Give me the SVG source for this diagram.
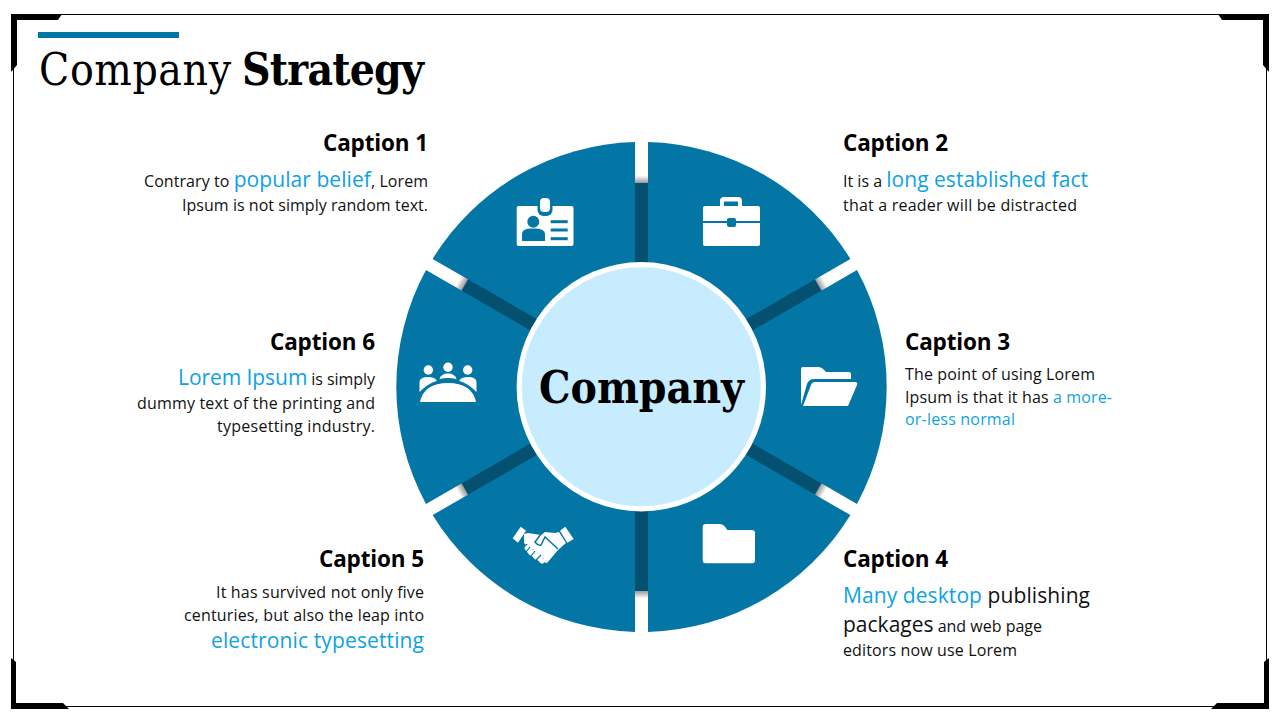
<svg xmlns="http://www.w3.org/2000/svg" width="1280" height="720" viewBox="0 0 1280 720">
<defs>
<linearGradient id="gs" x1="0" y1="0" x2="0" y2="1"><stop offset="0" stop-color="#fff"/><stop offset="0.84" stop-color="#fff"/><stop offset="1" stop-color="#999"/></linearGradient>
</defs>
<style>
.seg{fill:#0476a5}
.dark{fill:#035070}
.ic{fill:#fff}
.icb{fill:#0476a5}
.cap{font-family:"Open Sans","Noto Sans",sans-serif;font-weight:700;font-size:22.500px;fill:#000}
.b{font-family:"Open Sans","Noto Sans",sans-serif;font-size:16px;fill:#111}
.big{font-size:21px}
.hl{fill:#0ea2e2}
.e{text-anchor:end}
.ttl{font-family:"DejaVu Serif Condensed","DejaVu Serif",serif;font-size:44px;fill:#000}
</style>
<rect width="1280" height="720" fill="#fff"/>
<g id="frame">
<rect x="13.5" y="14.500" width="1253" height="692" fill="none" stroke="#000" stroke-width="1"/>
<path d="M11 14H62L58 20H17V65L11 72Z" fill="#000"/>
<path d="M1269 14H1218L1222 20H1263V65L1269 72Z" fill="#000"/>
<path d="M11 709H69L63 703H16V662L11 658Z" fill="#000"/>
<path d="M1269 709H1211L1217 703H1264V662L1269 658Z" fill="#000"/>
</g>
<g id="title">
<rect x="38" y="32" width="141" height="6" fill="#0476a5"/>
<text class="ttl" x="39" y="85" textLength="192">Company</text>
<text class="ttl" x="242" y="85" font-weight="700" textLength="182">Strategy</text>
</g>
<g id="connectors">
<rect class="dark" x="634" y="150" width="15" height="130" transform="rotate(0 641.5 387)"/>
<rect class="dark" x="634" y="150" width="15" height="130" transform="rotate(60 641.5 387)"/>
<rect class="dark" x="634" y="150" width="15" height="130" transform="rotate(120 641.5 387)"/>
<rect class="dark" x="634" y="150" width="15" height="130" transform="rotate(180 641.5 387)"/>
<rect class="dark" x="634" y="150" width="15" height="130" transform="rotate(240 641.5 387)"/>
<rect class="dark" x="634" y="150" width="15" height="130" transform="rotate(300 641.5 387)"/>
<rect fill="url(#gs)" x="634" y="136" width="15" height="47" transform="rotate(0 641.5 387)"/>
<rect fill="url(#gs)" x="634" y="136" width="15" height="47" transform="rotate(60 641.5 387)"/>
<rect fill="url(#gs)" x="634" y="136" width="15" height="47" transform="rotate(120 641.5 387)"/>
<rect fill="url(#gs)" x="634" y="136" width="15" height="47" transform="rotate(180 641.5 387)"/>
<rect fill="url(#gs)" x="634" y="136" width="15" height="47" transform="rotate(240 641.5 387)"/>
<rect fill="url(#gs)" x="634" y="136" width="15" height="47" transform="rotate(300 641.5 387)"/>
</g>
<g id="seg1">
<path class="seg" d="M635 142A245 245 0 0 0 432.600 258.900L560 332.500L635 300Z"/>
<rect class="ic" x="516.700" y="206" width="56.800" height="40" rx="2"/>
<rect class="icb" x="537.500" y="198" width="15" height="18" rx="6"/>
<rect class="ic" x="540" y="198" width="10" height="14" rx="4"/>
<circle class="icb" cx="533.300" cy="221.700" r="6"/>
<path class="icb" d="M522 241V234Q522 229 530 228.500H536Q545 229 545 234V241Z"/>
<rect class="icb" x="550.700" y="220.200" width="17" height="3"/><rect class="icb" x="550.700" y="228.500" width="17" height="3"/><rect class="icb" x="550.700" y="237.200" width="17" height="3"/>
</g>
<g id="seg2">
<path class="seg" d="M648 142A245 245 0 0 1 850.400 258.900L723 332.500L648 300Z"/>
<rect class="ic" x="703" y="206" width="57" height="40" rx="2"/>
<path class="ic" d="M720 208V201Q720 197 724 197H738Q742 197 742 201V208ZM724 206H738V201.500H724Z" fill-rule="evenodd"/>
<rect class="icb" x="703" y="221" width="57" height="2"/>
<rect class="icb" x="727" y="218" width="9" height="9" rx="2"/>
</g>
<g id="seg3">
<path class="seg" d="M857 270.100A245 245 0 0 1 857 503.900L730 430.600L720 387L730 343.400Z"/>
<path class="ic" d="M801 369Q801 367 803 367H818Q822 367 826 372H849Q851 372 851 375V379H814Q809 379 807 384L801 405Z"/>
<path class="ic" d="M815 382H855Q858 382 857 385L848 406H803L811 385Q812 382 815 382Z"/>
</g>
<g id="seg4">
<path class="seg" d="M648 632A245 245 0 0 0 850.400 515.100L723 441.500L648 474Z"/>
<path class="ic" d="M702.700 527Q702.700 524 705.700 524H720Q724 524 727.300 530H752Q755 530 755 533V560.300Q755 563.300 752 563.300H705.700Q702.700 563.300 702.700 560.300Z"/>
</g>
<g id="seg5">
<path class="seg" d="M635 632A245 245 0 0 1 432.600 515.100L560 441.500L635 474Z"/>
<path class="ic" d="M512.700 538.300L520.700 526.700L526 530.700L518 542.700Z"/>
<path class="ic" d="M560 530.700L565.300 526.700L573.700 539L567.300 542.700Z"/>
<path class="ic" d="M524 534L528 533L541 535L545 532L555 533L559 532L566 543L558 550L547 563L543 562L524 543Z"/>
<path d="M558 549L545 537L541 545Q538 546 535 542L541 534" fill="none" stroke="#0476a5" stroke-width="1.500"/>
<path d="M527 544L523 551M533 549L529 556M538 554L534 561M543 558L540 563" stroke="#0476a5" stroke-width="1.500" fill="none"/>
<path d="M527 548L531 553M532 552L536 557M537 556L542 561" stroke="#fff" stroke-width="5" stroke-linecap="round" fill="none"/>
<path d="M530 547L526 552M535 551L531 556M541 555L536 560" stroke="#0476a5" stroke-width="1.200" fill="none"/>
</g>
<g id="seg6">
<path class="seg" d="M426 270.100A245 245 0 0 0 426 503.900L553 430.600L563 387L553 343.400Z"/>
<circle class="ic" cx="428.300" cy="370" r="4.700"/><circle class="ic" cx="448" cy="367.300" r="4.700"/><circle class="ic" cx="467.700" cy="370" r="4.700"/>
<path class="ic" d="M419.500 392V382Q420 377 428 377Q434 377 436.500 380V381Q427 384 419.500 392ZM439.500 379Q441 373.500 448 373.500Q455 373.500 456.500 379Q448 377 439.500 379ZM476.500 392V382Q476 377 468 377Q462 377 459.500 380V381Q469 384 476.500 392ZM420 402Q424 383 448 383Q472 383 476 402Z"/>
</g>
<g id="center">
<circle cx="641.300" cy="386.800" r="124.700" fill="#fff"/>
<circle cx="641.300" cy="386.800" r="119.500" fill="#c7ecfe"/>
<text x="641.500" y="403" text-anchor="middle" font-family="'DejaVu Serif Condensed','DejaVu Serif',serif" font-weight="700" font-size="44px" fill="#000" textLength="205">Company</text>
</g>
<g id="caption1"><text class="cap e" x="428" y="151" textLength="105">Caption 1</text>
<text class="b e" x="428" y="187" textLength="284">Contrary to <tspan class="big hl">popular belief</tspan>, Lorem</text>
<text class="b e" x="428" y="211" textLength="246">Ipsum is not simply random text.</text></g>
<g id="caption2"><text class="cap" x="843" y="151" textLength="105">Caption 2</text>
<text class="b" x="843" y="187" textLength="245">It is a <tspan class="big hl">long established fact</tspan></text>
<text class="b" x="843" y="211" textLength="234">that a reader will be distracted</text></g>
<g id="caption3"><text class="cap" x="905" y="350" textLength="105">Caption 3</text>
<text class="b" x="905" y="380" textLength="190">The point of using Lorem</text>
<text class="b" x="905" y="403" textLength="207">Ipsum is that it has <tspan class="hl">a more-</tspan></text>
<text class="b hl" x="905" y="425" textLength="110">or-less normal</text></g>
<g id="caption4"><text class="cap" x="843" y="567" textLength="105">Caption 4</text>
<text class="b big" x="843" y="603" textLength="247"><tspan class="hl">Many desktop</tspan> publishing</text>
<text class="b" x="843" y="632" textLength="199"><tspan class="big">packages</tspan> and web page</text>
<text class="b" x="843" y="656" textLength="174">editors now use Lorem</text></g>
<g id="caption5"><text class="cap e" x="424" y="567" textLength="105">Caption 5</text>
<text class="b e" x="424" y="598" textLength="208">It has survived not only five</text>
<text class="b e" x="424" y="621" textLength="240">centuries, but also the leap into</text>
<text class="b e big hl" x="424" y="648" textLength="213">electronic typesetting</text></g>
<g id="caption6"><text class="cap e" x="375" y="350" textLength="105">Caption 6</text>
<text class="b e" x="375" y="385" textLength="197"><tspan class="big hl">Lorem Ipsum</tspan> is simply</text>
<text class="b e" x="375" y="409" textLength="238">dummy text of the printing and</text>
<text class="b e" x="375" y="432" textLength="158">typesetting industry.</text></g>
</svg>
